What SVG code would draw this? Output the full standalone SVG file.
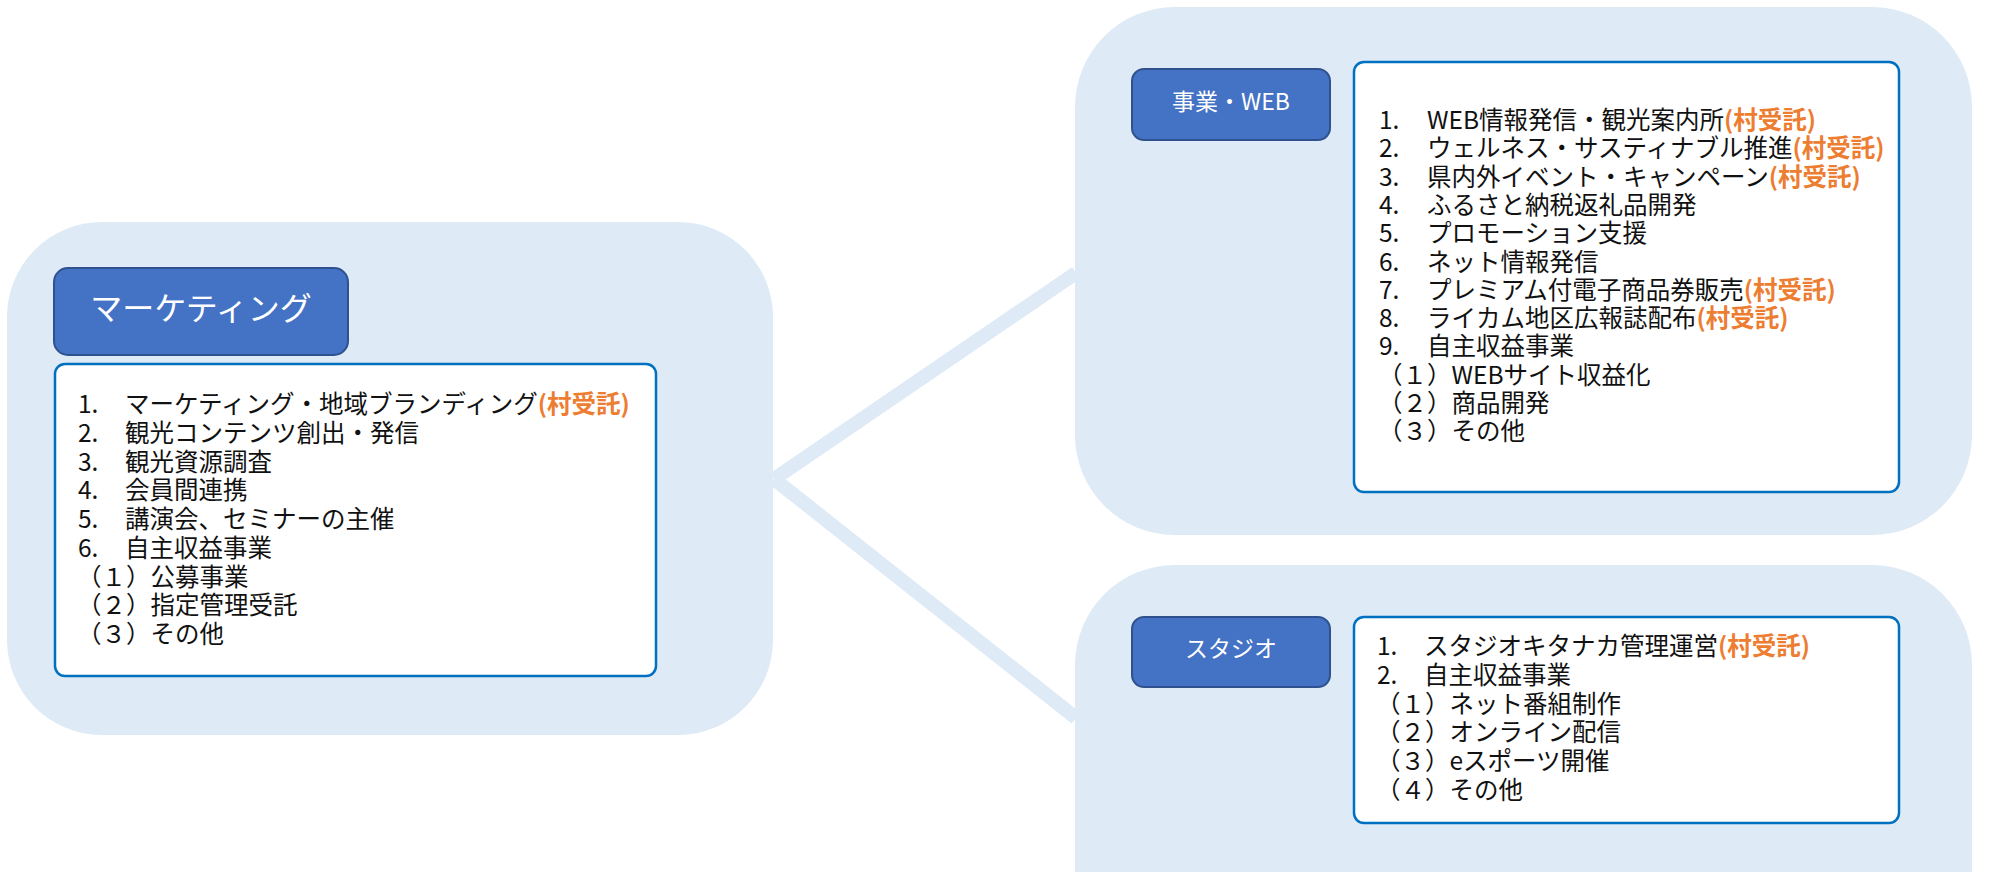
<svg xmlns="http://www.w3.org/2000/svg" width="1989" height="872" viewBox="0 0 1989 872">
  <style>
    .panel { fill: #DEEAF6; }
    .hdr { fill: #4472C4; stroke: #2F528F; stroke-width: 2; }
    .hdr-t { fill: #FFFFFF; font-family: "Noto Sans CJK JP", "Noto Sans", sans-serif; text-anchor: middle; }
    .box { fill: #FFFFFF; stroke: #0070C0; stroke-width: 2.5; }
    .t { fill: #111111; font-family: "Noto Sans CJK JP", "Noto Sans", sans-serif; font-size: 24.5px; }
    .o { fill: #ED7D31; font-weight: bold; }
    .conn { stroke: #DEEAF6; stroke-width: 14; fill: none; stroke-linecap: butt; }
  </style>

  <!-- connectors from the marketing panel to the two division panels -->
  <g id="connectors">
    <line class="conn" x1="774" y1="479" x2="1076" y2="273"/>
    <line class="conn" x1="774" y1="479" x2="1076" y2="718"/>
  </g>

  <!-- marketing -->
  <g id="marketing">
    <rect class="panel" x="7" y="222" width="766" height="513" rx="95" ry="95"/>
    <rect class="hdr" x="54" y="268" width="294" height="87" rx="14" ry="14"/>
    <text class="hdr-t" x="201" y="320" font-size="32">マーケティング</text>
    <rect class="box" x="55" y="364" width="601" height="312" rx="10" ry="10"/>
    <text class="t" x="78" y="413">1.</text><text class="t" x="125" y="413">マーケティング・地域ブランディング<tspan class="o">(村受託)</tspan></text>
    <text class="t" x="78" y="441.75">2.</text><text class="t" x="125" y="441.75">観光コンテンツ創出・発信</text>
    <text class="t" x="78" y="470.5">3.</text><text class="t" x="125" y="470.5">観光資源調査</text>
    <text class="t" x="78" y="499.25">4.</text><text class="t" x="125" y="499.25">会員間連携</text>
    <text class="t" x="78" y="528">5.</text><text class="t" x="125" y="528">講演会、セミナーの主催</text>
    <text class="t" x="78" y="556.75">6.</text><text class="t" x="125" y="556.75">自主収益事業</text>
    <text class="t" x="77" y="585.5">（１）公募事業</text>
    <text class="t" x="77" y="614.25">（２）指定管理受託</text>
    <text class="t" x="77" y="643">（３）その他</text>
  </g>

  <!-- business / web -->
  <g id="business-web">
    <rect class="panel" x="1075" y="7" width="897" height="528" rx="100" ry="100"/>
    <rect class="hdr" x="1132" y="69" width="198" height="71" rx="12" ry="12"/>
    <text class="hdr-t" x="1231" y="110" font-size="23">事業・WEB</text>
    <rect class="box" x="1354" y="62" width="545" height="430" rx="10" ry="10"/>
    <text class="t" x="1379" y="129">1.</text><text class="t" x="1427" y="129">WEB情報発信・観光案内所<tspan class="o">(村受託)</tspan></text>
    <text class="t" x="1379" y="157.3">2.</text><text class="t" x="1427" y="157.3">ウェルネス・サスティナブル推進<tspan class="o">(村受託)</tspan></text>
    <text class="t" x="1379" y="185.6">3.</text><text class="t" x="1427" y="185.6">県内外イベント・キャンペーン<tspan class="o">(村受託)</tspan></text>
    <text class="t" x="1379" y="213.9">4.</text><text class="t" x="1427" y="213.9">ふるさと納税返礼品開発</text>
    <text class="t" x="1379" y="242.2">5.</text><text class="t" x="1427" y="242.2">プロモーション支援</text>
    <text class="t" x="1379" y="270.5">6.</text><text class="t" x="1427" y="270.5">ネット情報発信</text>
    <text class="t" x="1379" y="298.8">7.</text><text class="t" x="1427" y="298.8">プレミアム付電子商品券販売<tspan class="o">(村受託)</tspan></text>
    <text class="t" x="1379" y="327.1">8.</text><text class="t" x="1427" y="327.1">ライカム地区広報誌配布<tspan class="o">(村受託)</tspan></text>
    <text class="t" x="1379" y="355.4">9.</text><text class="t" x="1427" y="355.4">自主収益事業</text>
    <text class="t" x="1378" y="383.7">（１）WEBサイト収益化</text>
    <text class="t" x="1378" y="412">（２）商品開発</text>
    <text class="t" x="1378" y="440.3">（３）その他</text>
  </g>

  <!-- studio -->
  <g id="studio">
    <rect class="panel" x="1075" y="565" width="897" height="420" rx="100" ry="100"/>
    <rect class="hdr" x="1132" y="617" width="198" height="70" rx="12" ry="12"/>
    <text class="hdr-t" x="1231" y="656.5" font-size="23">スタジオ</text>
    <rect class="box" x="1354" y="617" width="545" height="206" rx="10" ry="10"/>
    <text class="t" x="1377" y="655">1.</text><text class="t" x="1424" y="655">スタジオキタナカ管理運営<tspan class="o">(村受託)</tspan></text>
    <text class="t" x="1377" y="683.8">2.</text><text class="t" x="1424" y="683.8">自主収益事業</text>
    <text class="t" x="1376" y="712.6">（１）ネット番組制作</text>
    <text class="t" x="1376" y="741.4">（２）オンライン配信</text>
    <text class="t" x="1376" y="770.2">（３）eスポーツ開催</text>
    <text class="t" x="1376" y="799">（４）その他</text>
  </g>
</svg>
